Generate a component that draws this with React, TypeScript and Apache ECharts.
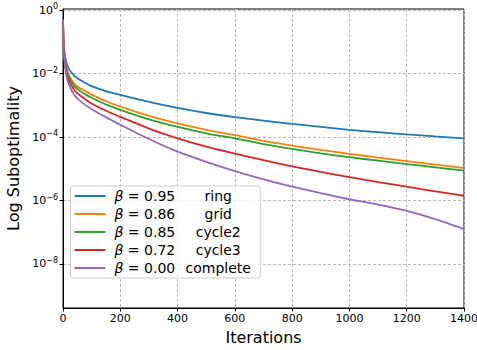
import React, { useEffect, useRef } from "react";
import * as echarts from "echarts";

// Iteration values at which the curves are sampled
const iterations = [0, 2, 5, 10, 20, 40, 60, 80, 100, 150, 200, 300, 400, 500, 600, 700, 800, 900, 1000, 1100, 1200, 1300, 1400];

// log10(suboptimality) for each topology
const ringLog = [-0.3, -0.95, -1.3, -1.58, -1.84, -2.07, -2.2, -2.3, -2.39, -2.55, -2.67, -2.89, -3.08, -3.24, -3.37, -3.48, -3.585, -3.68, -3.77, -3.845, -3.915, -3.98, -4.04];
const gridLog = [-0.3, -1.0, -1.4, -1.74, -2.04, -2.32, -2.46, -2.56, -2.66, -2.87, -3.04, -3.33, -3.57, -3.77, -3.94, -4.12, -4.27, -4.405, -4.53, -4.645, -4.755, -4.865, -4.975];
const cycle2Log = [-0.3, -1.02, -1.43, -1.79, -2.1, -2.4, -2.55, -2.66, -2.76, -2.97, -3.14, -3.44, -3.68, -3.88, -4.04, -4.22, -4.37, -4.51, -4.635, -4.745, -4.85, -4.955, -5.06];
const cycle3Log = [-0.3, -1.05, -1.48, -1.87, -2.2, -2.52, -2.69, -2.82, -2.94, -3.17, -3.36, -3.73, -4.04, -4.3, -4.52, -4.73, -4.92, -5.1, -5.265, -5.42, -5.565, -5.71, -5.85];
const completeLog = [-0.3, -1.1, -1.55, -1.97, -2.33, -2.68, -2.86, -3.0, -3.12, -3.37, -3.61, -4.06, -4.46, -4.78, -5.07, -5.33, -5.56, -5.77, -5.96, -6.13, -6.33, -6.59, -6.9];

const names = ["ring", "grid", "cycle2", "cycle3", "complete"];
const betas = ["0.95", "0.86", "0.85", "0.72", "0.00"];
const colors = ["#1f77b4", "#ff7f0e", "#2ca02c", "#d62728", "#9467bd"];
const seriesLogs = [ringLog, gridLog, cycle2Log, cycle3Log, completeLog];

const yTickExps = [0, -2, -4, -6, -8];

const FONT = "DejaVu Sans";

export default function App() {
  const ref = useRef<HTMLDivElement>(null);
  useEffect(() => {
    document.body.style.margin = "0";
    const chart = echarts.init(ref.current!, null, { renderer: "svg" });
    const option: any = {
      animation: false,
      backgroundColor: "#ffffff",
      grid: {
        left: 63,
        top: 9,
        width: 401,
        height: 299,
        show: true,
        borderColor: "#000",
        borderWidth: 1,
        backgroundColor: "transparent",
        containLabel: false,
        outerBoundsMode: "none",
      },
      xAxis: {
        type: "value",
        min: 0,
        max: 1400,
        interval: 200,
        name: "Iterations",
        nameLocation: "middle",
        nameGap: 21,
        nameTextStyle: { fontFamily: FONT, fontSize: 16, color: "#000" },
        axisLine: { onZero: false, lineStyle: { color: "#000", width: 1 } },
        axisTick: { show: true, inside: false, length: 3.5, lineStyle: { color: "#000" } },
        axisLabel: {
          fontFamily: FONT,
          fontSize: 11,
          color: "#000",
          margin: 5,
          formatter: (v: number) => String(v),
        },
        splitLine: { show: true, lineStyle: { color: "#b8b8b8", type: [3, 2], width: 1 } },
      },
      yAxis: {
        type: "value",
        min: -9.39,
        max: 0.04,
        name: "Log Suboptimality",
        nameLocation: "middle",
        nameGap: 40,
        nameTextStyle: { fontFamily: FONT, fontSize: 16, color: "#000" },
        axisLine: { onZero: false, lineStyle: { color: "#000", width: 1 } },
        axisTick: { show: true, inside: false, length: 3.5, lineStyle: { color: "#000" }, customValues: yTickExps },
        axisLabel: {
          margin: 5,
          customValues: yTickExps,
          formatter: (v: number) => {
            const e = Math.round(v);
            const s = e < 0 ? "\u2212" + Math.abs(e) : String(e);
            return `{b|10}{e|${s}}`;
          },
          rich: {
            b: { fontFamily: FONT, fontSize: 11, color: "#000" },
            e: { fontFamily: FONT, fontSize: 8, color: "#000", padding: [0, 0, 7, 0] },
          },
        },
        splitLine: { show: true, lineStyle: { color: "#b8b8b8", type: [3, 2], width: 1 } },
      },
      legend: {
        orient: "vertical",
        left: 70.5,
        top: 186,
        padding: [3, 3, 3, 4],
        itemGap: 4,
        itemWidth: 31,
        itemHeight: 2,
        icon: "rect",
        backgroundColor: "rgba(255,255,255,0.8)",
        borderColor: "#cccccc",
        borderWidth: 1,
        borderRadius: 3,
        data: names,
        formatter: (name: string) => {
          const i = names.indexOf(name);
          return `{g|\u03b2}{v| = ${betas[i]}}{n|${name}}`;
        },
        textStyle: {
          rich: {
            g: { fontFamily: FONT, fontStyle: "italic", fontSize: 14, color: "#000", lineHeight: 18, padding: [0, 0, 0, 4] },
            v: { fontFamily: FONT, fontSize: 14, color: "#000", lineHeight: 18 },
            n: { fontFamily: FONT, fontSize: 14, color: "#000", lineHeight: 18, width: 78, align: "center", padding: [0, 0, 0, 4] },
          },
        },
      },
      series: names.map((n, i) => ({
        name: n,
        type: "line",
        data: iterations.map((x, j) => [x, seriesLogs[i][j]]),
        symbol: "none",
        smooth: 0.25,
        color: colors[i],
        lineStyle: { color: colors[i], width: 1.8 },
        clip: true,
      })),
    };
    chart.setOption(option);
    return () => chart.dispose();
  }, []);
  return <div ref={ref} style={{ width: 477, height: 350 }} />;
}
